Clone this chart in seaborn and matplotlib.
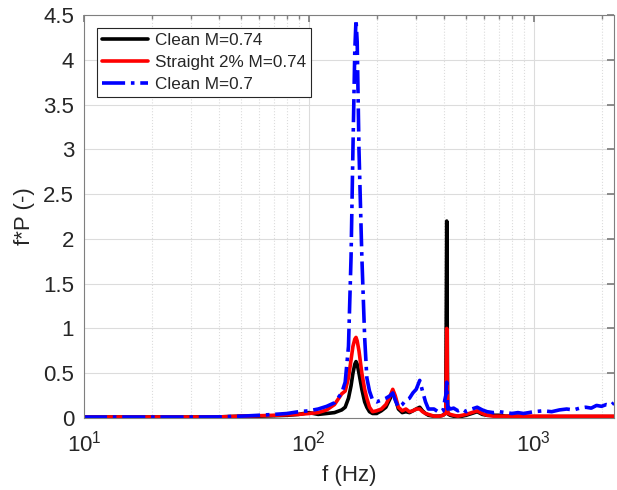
import matplotlib
matplotlib.use("Agg")
import matplotlib.pyplot as plt
import numpy as np
import pandas as pd
import seaborn as sns
from matplotlib.ticker import LogLocator, NullFormatter

# frequencies (Hz) sampled by eye from the reference
freq = [10, 20, 30, 40, 50, 60, 70, 80, 90, 100, 110, 120, 130, 140, 145, 150,
        154, 157, 160, 162, 164, 167, 172, 177, 181, 186, 192, 200, 210, 220,
        230, 236, 242, 250, 260, 270, 280, 290, 300, 311, 320, 330, 340, 360,
        380, 395, 402, 406, 410, 414, 418, 425, 440, 460, 480, 500, 530, 560,
        590, 620, 660, 700, 750, 800, 850, 900, 950, 1000, 1100, 1200, 1300,
        1400, 1500, 1600, 1700, 1800, 1900, 2000, 2100, 2200, 2270]

clean_074 = [0.01, 0.01, 0.01, 0.012, 0.02, 0.02, 0.025, 0.03, 0.04, 0.06, 0.04, 0.05,
             0.06, 0.09, 0.12, 0.22, 0.36, 0.5, 0.6, 0.63, 0.6, 0.5, 0.32, 0.18,
             0.12, 0.07, 0.05, 0.05, 0.08, 0.12, 0.22, 0.3, 0.22, 0.1, 0.06, 0.07,
             0.06, 0.08, 0.1, 0.12, 0.08, 0.05, 0.03, 0.02, 0.02, 0.03, 0.05, 0.05,
             2.2, 0.05, 0.04, 0.03, 0.02, 0.02, 0.02, 0.03, 0.05, 0.07, 0.04, 0.03,
             0.03, 0.03, 0.02, 0.02, 0.02, 0.015, 0.015, 0.015, 0.015, 0.015, 0.015,
             0.015, 0.015, 0.015, 0.015, 0.015, 0.015, 0.015, 0.015, 0.015, 0.015]

straight_074 = [0.01, 0.01, 0.01, 0.012, 0.02, 0.025, 0.03, 0.035, 0.04, 0.05, 0.06, 0.09,
                0.15, 0.27, 0.3, 0.45, 0.65, 0.8, 0.88, 0.9, 0.86, 0.75, 0.5, 0.32,
                0.22, 0.12, 0.07, 0.08, 0.1, 0.15, 0.25, 0.32, 0.25, 0.12, 0.08, 0.1,
                0.07, 0.08, 0.1, 0.1, 0.07, 0.05, 0.04, 0.02, 0.02, 0.03, 0.05, 0.05,
                1.0, 0.05, 0.05, 0.04, 0.03, 0.02, 0.03, 0.04, 0.06, 0.08, 0.05, 0.03,
                0.02, 0.02, 0.02, 0.02, 0.02, 0.02, 0.02, 0.02, 0.02, 0.02, 0.02,
                0.02, 0.02, 0.02, 0.02, 0.02, 0.02, 0.02, 0.02, 0.02, 0.02]

clean_070 = [0.01, 0.01, 0.01, 0.012, 0.02, 0.03, 0.04, 0.05, 0.07, 0.08, 0.1, 0.13,
             0.17, 0.28, 0.4, 0.8, 1.8, 3.0, 4.1, 4.45, 4.2, 3.0, 1.8, 0.9,
             0.45, 0.3, 0.2, 0.18, 0.2, 0.22, 0.25, 0.28, 0.2, 0.12, 0.15, 0.2,
             0.22, 0.28, 0.32, 0.42, 0.3, 0.18, 0.1, 0.1, 0.06, 0.08, 0.2, 0.25,
             0.4, 0.1, 0.12, 0.1, 0.11, 0.08, 0.1, 0.07, 0.1, 0.12, 0.09, 0.07,
             0.06, 0.07, 0.06, 0.05, 0.06, 0.05, 0.06, 0.07, 0.08, 0.07, 0.09,
             0.1, 0.09, 0.11, 0.12, 0.11, 0.14, 0.13, 0.15, 0.14, 0.17]

labels = ["Clean M=0.74", "Straight 2% M=0.74", "Clean M=0.7"]
colors = ["black", "red", "blue"]
styles = ["-", "-", "-."]

df = pd.DataFrame({"f": freq, labels[0]: clean_074, labels[1]: straight_074,
                   labels[2]: clean_070})

sns.set_theme(style="white")
plt.rcParams["font.family"] = ["Liberation Sans", "DejaVu Sans"]
plt.rcParams["mathtext.fontset"] = "custom"
plt.rcParams["mathtext.rm"] = "Liberation Sans"

fig = plt.figure(figsize=(6.17, 4.90), dpi=100)
ax = fig.add_axes([0.136, 0.147, 0.859, 0.822])

for lab, col, ls in zip(labels, colors, styles):
    sns.lineplot(data=df, x="f", y=lab, ax=ax, color=col, linestyle=ls,
                 linewidth=2.6, label=lab)

ax.set_xscale("log")
ax.set_xlim(10, 2270)
ax.set_ylim(0, 4.5)
ax.set_yticks(np.arange(0, 4.51, 0.5))
ax.set_yticklabels(["0", "0.5", "1", "1.5", "2", "2.5", "3", "3.5", "4", "4.5"])
ax.xaxis.set_minor_locator(LogLocator(base=10, subs=np.arange(2, 10)))
ax.xaxis.set_minor_formatter(NullFormatter())

ax.grid(True, which="major", color="#dcdcdc", linewidth=0.8)
ax.grid(True, which="minor", axis="x", color="#dcdcdc", linestyle=":", linewidth=0.8)
ax.set_axisbelow(True)

for sp in ax.spines.values():
    sp.set_color("#7f7f7f")
    sp.set_linewidth(0.8)
ax.tick_params(which="both", direction="in", top=True, right=True,
               colors="#7f7f7f", labelcolor="#262626", labelsize=16)
ax.tick_params(axis="y", pad=7)
ax.tick_params(axis="x", pad=9)
ax.tick_params(which="major", length=5)
ax.tick_params(which="minor", length=3)

ax.set_xlabel("f (Hz)", fontsize=16, color="#262626", labelpad=6)
ax.set_ylabel("f*P (-)", fontsize=16, color="#262626", labelpad=6)

leg = ax.legend(loc="upper left", fontsize=12.3, frameon=True, fancybox=False,
                edgecolor="#262626", framealpha=1, borderaxespad=0.75,
                handlelength=2.7, handletextpad=0.4, labelspacing=0.4, borderpad=0.3)
leg.get_frame().set_linewidth(0.8)

fig.savefig("out.png", dpi=100)
